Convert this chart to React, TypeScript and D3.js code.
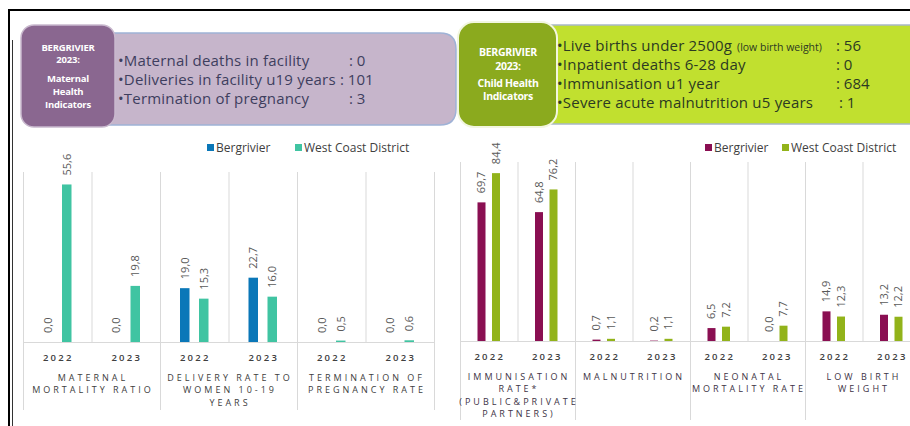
import React from "react";
import * as d3 from "d3";

const years = ["2022", "2023"];
const seriesNames = ["Bergrivier", "West Coast District"];

const leftGroupLabels = [["MATERNAL", "MORTALITY RATIO"], ["DELIVERY RATE TO", "WOMEN 10-19", "YEARS"], ["TERMINATION OF", "PREGNANCY RATE"]];
const leftBergrivier = [0.0, 0.0, 19.0, 22.7, 0.0, 0.0];
const leftWCD = [55.6, 19.8, 15.3, 16.0, 0.5, 0.6];

const rightGroupLabels = [["IMMUNISATION", "RATE*", "(PUBLIC&PRIVATE", "PARTNERS)"], ["MALNUTRITION"], ["NEONATAL", "MORTALITY RATE"], ["LOW BIRTH", "WEIGHT"]];
const rightBergrivier = [69.7, 64.8, 0.7, 0.2, 6.5, 0.0, 14.9, 13.2];
const rightWCD = [84.4, 76.2, 1.1, 1.1, 7.2, 7.7, 12.3, 12.2];

const maternalTitle = ["BERGRIVIER", "2023:", "Maternal", "Health", "Indicators"];
const maternalItems = ["Maternal deaths in facility", "Deliveries in facility u19 years", "Termination of pregnancy"];
const maternalValues = ["0", "101", "3"];

const childTitle = ["BERGRIVIER", "2023:", "Child Health", "Indicators"];
const childItems = ["Live births under 2500g", "Inpatient deaths 6-28 day", "Immunisation u1 year", "Severe acute malnutrition u5 years"];
const childNote = "(low birth weight)";
const childValues = ["56", "0", "684", "1"];

const FONT = "'Open Sans', 'DejaVu Sans', sans-serif";
const fmt = (v: number) => v.toFixed(1).replace(".", ",");

type ChartProps = {
  x0: number; x1: number; yBase: number; yTop: number; yMax: number;
  bergrivier: number[]; wcd: number[]; groupLabels: string[][];
  colors: string[]; barW: number; barGap: number; groupBottom: number;
  legendX: number[]; labelColor: string; groupY: number[]; yearY: number;
};

function Chart(p: ChartProps) {
  const n = p.bergrivier.length;
  const x = d3.scaleBand<number>().domain(d3.range(n)).range([p.x0, p.x1]).padding(0);
  const bw = x.bandwidth();
  const step = p.barW + p.barGap;
  const inner = step * 2 - p.barGap;
  const xs = d3.scaleBand<number>().domain([0, 1]).range([bw / 2 - inner / 2, bw / 2 + inner / 2]).paddingInner(p.barGap / step).paddingOuter(0);
  const y = d3.scaleLinear().domain([0, p.yMax]).range([p.yBase, p.yTop]);
  const series = [p.bergrivier, p.wcd];
  const groups = p.groupLabels.length;
  return (
    <g>
      {d3.range(n + 1).map((i) => {
        const xv = i < n ? (x(i) as number) : p.x1;
        const isGroup = i % 2 === 0;
        return <line key={"g" + i} x1={xv + 0.5} x2={xv + 0.5} y1={p.yTop} y2={isGroup ? p.groupBottom : p.yBase} stroke="#D9D9D9" strokeWidth={1} />;
      })}
      <line x1={p.x0} x2={p.x1} y1={p.yBase + 0.5} y2={p.yBase + 0.5} stroke="#D9D9D9" strokeWidth={1} />
      {series.map((vals, s) =>
        vals.map((v, i) => {
          const bx = (x(i) as number) + (xs(s) as number);
          return (
            <g key={"b" + s + "-" + i}>
              {v > 0 && <rect x={bx} y={y(v)} width={xs.bandwidth()} height={p.yBase - y(v)} fill={p.colors[s]} />}
              <text transform={`translate(${bx + xs.bandwidth() / 2},${y(v) - 9}) rotate(-90)`} dy="0.35em" fontSize={11} fill="#595959" fontFamily={FONT}>{fmt(v)}</text>
            </g>
          );
        })
      )}
      {d3.range(n).map((i) => (
        <text key={"y" + i} x={(x(i) as number) + bw / 2 + 1} y={p.yearY} textAnchor="middle" fontSize={9.5} fontWeight={600} letterSpacing={2.2} fill="#404040" fontFamily={FONT}>{years[i % 2]}</text>
      ))}
      {d3.range(groups).map((g) => {
        const cx = (x(g * 2) as number) + bw + 1.5;
        return p.groupLabels[g].map((line, li) => (
          <text key={"l" + g + "-" + li} x={cx} y={p.groupY[li]} textAnchor="middle" fontSize={9} letterSpacing={3} fill={p.labelColor} fontFamily={FONT}>{line}</text>
        ));
      })}
      {seriesNames.map((name, s) => (
        <g key={"lg" + s}>
          <rect x={p.legendX[s]} y={144} width={7} height={7} fill={p.colors[s]} />
          <text x={p.legendX[s] + 9} y={151.5} fontSize={12} fill="#404040" fontFamily={FONT}>{name}</text>
        </g>
      ))}
    </g>
  );
}

export default function App() {
  const mY = [66, 85, 104];
  const cY = [51, 70, 89, 108];
  return (
    <svg width={910} height={426} style={{ position: "absolute", left: 0, top: 0, background: "#fff" }}>
      <line x1={8} x2={910} y1={10} y2={10} stroke="#000" strokeWidth={2} />
      <line x1={9} x2={9} y1={9} y2={426} stroke="#000" strokeWidth={2} />
      <line x1={12.5} x2={12.5} y1={40} y2={426} stroke="#333" strokeWidth={1} />

      <path d="M100,33 H440 Q456,33 456,49 V109 Q456,125 440,125 H100 Z" fill="#C6B5CB" stroke="#9FB2D6" strokeWidth={1.5} />
      <rect x={21} y={25} width={94} height={102} rx={13} fill="#8A6790" stroke="#C9B9CE" strokeWidth={1.5} />
      {maternalTitle.map((t, i) => (
        <text key={"mt" + i} x={68} y={[50.5, 63, 81.5, 94.5, 107.5][i]} textAnchor="middle" fontSize={9.5} fontWeight="bold" fill="#fff" letterSpacing={-0.2} fontFamily={FONT}>{t}</text>
      ))}
      {maternalItems.map((t, i) => (
        <g key={"mi" + i}>
          <text x={118} y={mY[i]} fontSize={15} letterSpacing={0.2} fill="#3E3E5E" fontFamily={FONT}>{"\u2022" + t}</text>
          <text x={[349, 340, 349][i]} y={mY[i]} fontSize={15} fill="#3E3E5E" fontFamily={FONT}>{": " + maternalValues[i]}</text>
        </g>
      ))}

      <path d="M545,25 H912 V124 H545 Z" fill="#C1E02F" stroke="#A9B8C8" strokeWidth={1.5} />
      <rect x={458} y={22} width={99} height={105} rx={16} fill="#8BAA1E" stroke="#F2F6E0" strokeWidth={2} />
      {childTitle.map((t, i) => (
        <text key={"ct" + i} x={508} y={[55.5, 69.5, 86.5, 100][i]} textAnchor="middle" fontSize={10.5} fontWeight="bold" fill="#fff" letterSpacing={-0.3} fontFamily={FONT}>{t}</text>
      ))}
      {childItems.map((t, i) => (
        <g key={"ci" + i}>
          <text x={557} y={cY[i]} fontSize={15} letterSpacing={0.2} fill="#2C3A22" fontFamily={FONT}>
            {"\u2022" + t}
            {i === 0 && <tspan fontSize={10.5} dx={5} letterSpacing={0}>{childNote}</tspan>}
          </text>
          <text x={[836, 836, 836, 839][i]} y={cY[i]} fontSize={15} fill="#2C3A22" fontFamily={FONT}>{": " + childValues[i]}</text>
        </g>
      ))}

      <Chart x0={23} x1={434} yBase={342} yTop={172} yMax={60}
        bergrivier={leftBergrivier} wcd={leftWCD} groupLabels={leftGroupLabels}
        colors={["#0A77B8", "#40C4A2"]} barW={9.5} barGap={9.5} groupBottom={410}
        legendX={[207, 295]} labelColor="#404040" groupY={[381, 393, 406]} yearY={361} />
      <Chart x0={460} x1={920} yBase={341} yTop={162} yMax={90}
        bergrivier={rightBergrivier} wcd={rightWCD} groupLabels={rightGroupLabels}
        colors={["#8A0F52", "#92B31A"]} barW={8} barGap={6.5} groupBottom={420}
        legendX={[705, 782]} labelColor="#3E3446" groupY={[380, 392, 405, 417]} yearY={360} />
    </svg>
  );
}
